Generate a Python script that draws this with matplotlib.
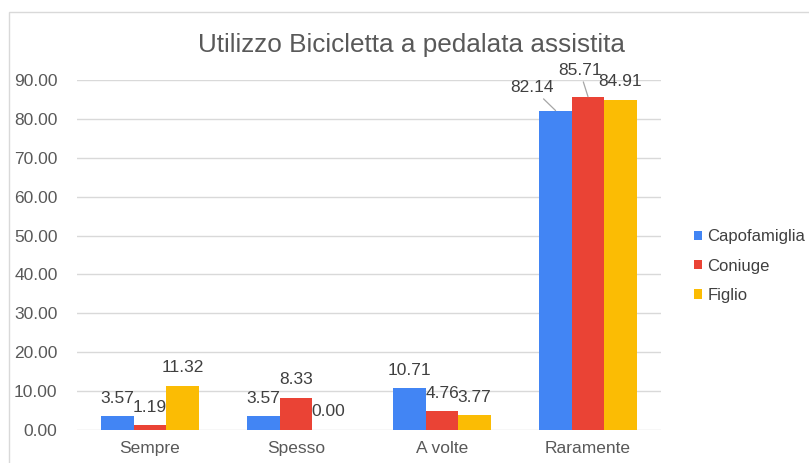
import matplotlib
matplotlib.use("Agg")
import matplotlib.pyplot as plt
import matplotlib.patches as mpatches
import numpy as np

plt.rcParams['font.family'] = ['Liberation Sans', 'DejaVu Sans']

categories = ["Sempre", "Spesso", "A volte", "Raramente"]
series_names = ["Capofamiglia", "Coniuge", "Figlio"]
capofamiglia = [3.57, 3.57, 10.71, 82.14]
coniuge = [1.19, 8.33, 4.76, 85.71]
figlio = [11.32, 0.00, 3.77, 84.91]
colors = ["#4285F4", "#EA4335", "#FBBC04"]
yticks = [0, 10, 20, 30, 40, 50, 60, 70, 80, 90]

fig = plt.figure(figsize=(8.09, 4.63), dpi=100)
ax = fig.add_axes([77/809, 33/463, 584/809, 350/463])

x = np.arange(len(categories))
w = 0.222
series = [capofamiglia, coniuge, figlio]
bar_groups = []
for i, (vals, name, c) in enumerate(zip(series, series_names, colors)):
    bars = ax.bar(x + (i - 1) * w, vals, w, color=c, label=name, zorder=3)
    bar_groups.append(bars)

label_color = "#404040"
fs = 12.5
for i, bars in enumerate(bar_groups):
    for j, b in enumerate(bars):
        v = b.get_height()
        cx = b.get_x() + b.get_width() / 2
        txt = f"{v:.2f}"
        if j == 3 and i == 0:
            ax.annotate(txt, (cx, v), xytext=(-17, 16.5), textcoords='offset points',
                        ha='center', va='center', fontsize=fs, color=label_color,
                        arrowprops=dict(arrowstyle='-', color='#a6a6a6', lw=0.9,
                                        shrinkA=1, shrinkB=0))
        elif j == 3 and i == 1:
            ax.annotate(txt, (cx, v), xytext=(-6, 19), textcoords='offset points',
                        ha='center', va='center', fontsize=fs, color=label_color,
                        arrowprops=dict(arrowstyle='-', color='#a6a6a6', lw=0.9,
                                        shrinkA=1, shrinkB=0))
        else:
            ax.annotate(txt, (cx, v), xytext=(0, 13), textcoords='offset points',
                        ha='center', va='center', fontsize=fs, color=label_color)

ax.set_ylim(0, 90)
ax.set_xlim(-0.5, 3.5)
ax.set_yticks(yticks)
ax.set_yticklabels([f"{t:.2f}" for t in yticks])
ax.set_xticks(x)
ax.set_xticklabels(categories)
ax.tick_params(axis='both', length=0, labelsize=fs, labelcolor='#595959')
ax.tick_params(axis='y', pad=14)
ax.tick_params(axis='x', pad=8)
ax.grid(axis='y', color='#d9d9d9', lw=1, zorder=0)
for s in ax.spines.values():
    s.set_visible(False)

fig.suptitle("Utilizzo Bicicletta a pedalata assistita", x=412/809, y=1 - 45/463,
             va='center', fontsize=18.8, color='#595959')

leg = ax.legend(loc='center left', bbox_to_anchor=(694/809, 1 - 266/463),
                bbox_transform=fig.transFigure, frameon=False, fontsize=12,
                handlelength=0.5, handleheight=0.5, handletextpad=0.3,
                labelspacing=0.85, borderpad=0, borderaxespad=0)
for t in leg.get_texts():
    t.set_color('#404040')

border = mpatches.Rectangle((9/809, -0.1), 1.2, 1.1 - 12/463,
                            transform=fig.transFigure, fill=False,
                            edgecolor='#d9d9d9', lw=1, clip_on=False)
fig.add_artist(border)

fig.savefig("out.png", dpi=100, facecolor='white')
